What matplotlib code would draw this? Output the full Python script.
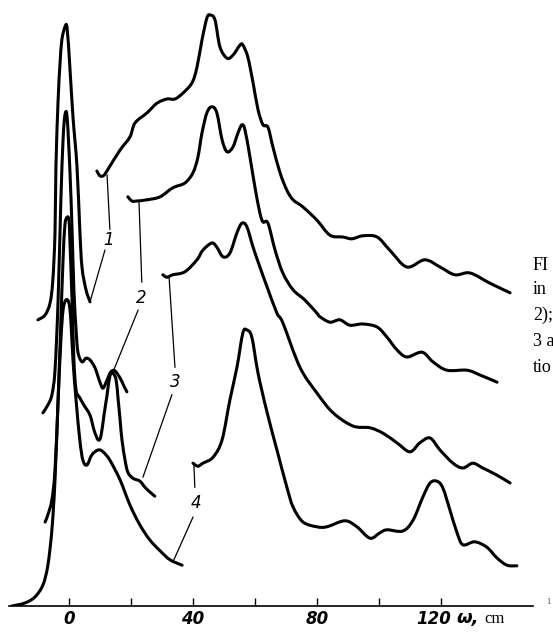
import numpy as np
import matplotlib
matplotlib.use("Agg")
import matplotlib.pyplot as plt
from matplotlib.path import Path
from matplotlib.patches import PathPatch
from matplotlib.transforms import ScaledTranslation

# ---------------------------------------------------------------
# Low-frequency spectra, four samples (1-4), each drawn as a
# Rayleigh-wing part plus a magnified part (arbitrary intensity)
# ---------------------------------------------------------------

# sample 1
s1_low_w = [-10.0, -7.7, -6.1, -5.2, -4.5, -4.2, -3.5, -2.9, -2.3, -1.3, -0.6, 0.3, 1.3, 2.6, 3.5, 4.2, 5.5, 6.8]
s1_low_i = [47.7, 48.5, 50.5, 54.3, 62.2, 73.2, 84.3, 90.2, 94.3, 96.5, 96.3, 89.8, 81.5, 73.2, 62.7, 56.5, 52.7, 50.7]
s1_mag_w = [9.0, 10.0, 11.3, 13.2, 16.5, 19.7, 21.3, 25.2, 28.4, 31.6, 34.2, 36.8, 39.7, 41.3, 42.9, 44.5, 45.5,
            47.1, 48.7, 51.0, 52.9, 55.2, 56.1, 57.7, 59.4, 61.0, 62.6, 64.2, 65.8, 68.1, 70.3, 72.3, 75.5, 80.0,
            84.2, 88.4, 91.3, 94.8, 99.4, 103.5, 109.0, 114.8, 119.7, 124.5, 129.4, 135.8, 142.3]
s1_mag_i = [72.5, 71.7, 71.8, 73.3, 76.0, 78.2, 80.5, 82.2, 83.8, 84.5, 84.5, 85.5, 87.2, 89.8, 94.3, 98.0, 98.5,
            97.7, 93.2, 91.3, 91.8, 93.5, 93.5, 91.5, 87.2, 82.7, 80.2, 79.8, 76.5, 72.2, 69.3, 67.7, 66.5, 64.3,
            61.8, 61.5, 61.2, 61.7, 61.5, 59.3, 56.5, 57.7, 56.5, 55.2, 55.5, 53.8, 52.2]

# sample 2
s2_low_w = [-8.4, -6.8, -5.5, -4.5, -3.5, -2.6, -1.9, -1.3, -0.6, 0.3, 1.0, 1.6, 2.3, 2.9, 4.2, 5.5, 6.8, 8.4,
            10.0, 11.0, 12.3, 13.5, 14.8, 16.5, 17.7, 18.7]
s2_low_i = [32.2, 33.5, 35.2, 39.3, 51.0, 67.7, 77.7, 81.8, 81.5, 72.7, 62.7, 52.7, 46.0, 42.3, 40.7, 41.3, 41.0,
            39.7, 37.3, 36.3, 37.7, 39.0, 39.2, 38.0, 36.7, 35.7]
s2_mag_w = [19.0, 20.3, 21.9, 25.2, 29.4, 33.5, 37.4, 40.0, 41.6, 42.9, 44.5, 46.1, 47.7, 49.4, 51.0, 52.9, 54.5,
            55.8, 56.8, 58.4, 60.0, 61.6, 62.6, 64.2, 66.5, 69.0, 72.3, 76.1, 80.0, 81.0, 84.2, 87.4, 90.6, 94.8,
            99.4, 102.6, 105.8, 109.0, 113.9, 117.4, 121.9, 128.4, 132.6, 138.1]
s2_mag_i = [68.2, 67.5, 67.5, 67.7, 68.2, 69.7, 70.5, 72.2, 74.8, 78.8, 82.2, 83.2, 82.2, 77.7, 75.7, 76.5, 78.8,
            80.2, 79.3, 74.8, 69.8, 65.5, 64.0, 63.8, 59.3, 55.5, 52.7, 51.0, 48.8, 48.2, 47.3, 47.7, 46.8, 47.0,
            46.5, 44.8, 42.7, 41.5, 42.3, 40.7, 39.3, 39.3, 38.5, 37.3]

# sample 3
s3_low_w = [-7.7, -6.8, -5.5, -4.5, -3.5, -2.6, -1.9, -1.3, -0.6, 0.0, 0.3, 1.0, 1.6, 2.3, 3.5, 4.8, 6.8, 8.1,
            9.4, 10.3, 11.3, 12.3, 13.2, 14.2, 15.2, 15.8, 16.5, 17.1, 18.1, 19.0, 20.6, 22.9, 24.5, 26.1, 27.7]
s3_low_i = [14.0, 15.2, 17.7, 22.7, 34.3, 47.7, 57.7, 63.5, 64.8, 64.3, 61.0, 51.0, 41.0, 36.0, 34.7, 33.5, 31.8,
            29.3, 27.7, 28.3, 31.8, 35.2, 38.3, 38.8, 37.7, 34.8, 31.0, 27.7, 24.3, 22.3, 21.3, 20.8, 19.8, 19.0, 18.3]
s3_mag_w = [30.3, 31.6, 33.5, 37.4, 41.3, 43.2, 46.1, 47.7, 49.7, 51.9, 54.2, 55.8, 57.4, 59.4, 61.6, 63.9, 67.1,
            69.0, 74.5, 80.0, 85.2, 91.6, 97.1, 101.3, 105.8, 110.0, 113.2, 116.5, 119.7, 123.9, 127.1, 130.3,
            133.5, 138.1, 142.3]
s3_mag_i = [55.2, 54.8, 55.2, 55.7, 57.7, 59.3, 60.5, 59.8, 58.2, 58.8, 62.2, 63.8, 63.2, 59.8, 56.5, 53.2, 48.8,
            47.2, 39.8, 35.5, 32.2, 30.0, 29.7, 28.8, 27.2, 25.7, 27.2, 28.0, 26.0, 23.8, 23.0, 23.8, 23.0, 21.8, 20.5]

# sample 4
s4_low_w = [-18.4, -14.2, -11.0, -8.4, -6.8, -5.5, -4.5, -3.5, -2.6, -1.9, -1.0, 0.0, 0.6, 1.3, 2.3, 3.5, 4.5,
            5.8, 7.4, 9.4, 11.0, 13.2, 16.5, 19.7, 22.9, 26.1, 29.4, 32.6, 36.5]
s4_low_i = [0.0, 0.5, 1.5, 3.5, 6.8, 12.7, 21.0, 34.3, 44.3, 49.3, 51.0, 50.5, 47.7, 41.0, 34.3, 27.7, 24.3,
            23.5, 25.2, 26.0, 25.7, 24.3, 21.0, 16.8, 13.5, 11.0, 9.2, 7.7, 6.8]
s4_mag_w = [40.0, 41.6, 43.2, 46.5, 49.4, 51.9, 54.2, 56.1, 57.4, 59.0, 61.0, 63.9, 67.1, 70.3, 72.3, 75.5, 80.0,
            83.2, 89.0, 92.9, 97.1, 100.3, 102.6, 107.7, 111.0, 114.2, 116.5, 118.7, 120.6, 122.9, 125.2, 127.1,
            130.9, 134.8, 138.1, 141.3, 144.5]
s4_mag_i = [23.8, 23.3, 23.8, 24.8, 27.7, 34.3, 39.8, 45.5, 46.0, 44.8, 38.8, 32.3, 26.0, 19.8, 16.5, 14.0, 13.2,
            13.2, 14.2, 13.2, 11.3, 12.2, 12.7, 12.5, 14.3, 18.2, 20.5, 20.8, 19.7, 16.0, 12.2, 10.2,
            10.7, 9.8, 8.0, 6.8, 6.7]

# curve labels: number, position, leader up to the magnified part, leader down to the wing
labels = ["1", "2", "3", "4"]
label_w = [12.6, 23.2, 34.2, 41.0]
label_i = [61.0, 51.3, 37.3, 17.2]
lead_up_w = [[12.3, 13.2], [22.6, 23.5], [32.3, 34.2], [40.3, 40.6]]
lead_up_i = [[71.8, 62.8], [67.3, 54.0], [54.8, 39.8], [23.8, 19.8]]
lead_dn_w = [[11.6, 6.8], [22.3, 14.2], [33.2, 23.9], [40.0, 33.5]]
lead_dn_i = [[59.3, 50.7], [49.3, 39.0], [35.2, 21.5], [14.8, 7.3]]

ticks = [0, 20, 40, 60, 80, 100, 120]
tick_labels = ["0", "", "40", "", "80", "", "120"]


def smooth_path(w, i):
    # Catmull-Rom through the read points, written as cubic Bezier pieces
    p = np.column_stack([w, i]).astype(float)
    ext = np.vstack([p[0], p, p[-1]])
    verts = [p[0]]
    codes = [Path.MOVETO]
    for k in range(1, len(ext) - 2):
        p0, p1, p2, p3 = ext[k - 1], ext[k], ext[k + 1], ext[k + 2]
        verts += [p1 + (p2 - p0) / 6, p2 - (p3 - p1) / 6, p2]
        codes += [Path.CURVE4] * 3
    return Path(verts, codes)


fig = plt.figure(figsize=(5.53, 6.32), dpi=100)
ax = fig.add_axes([8.5 / 553, 26 / 632, 524.5 / 553, 606 / 632])

lw = 2.2
for w, i in [(s1_low_w, s1_low_i), (s1_mag_w, s1_mag_i),
             (s2_low_w, s2_low_i), (s2_mag_w, s2_mag_i),
             (s3_low_w, s3_low_i), (s3_mag_w, s3_mag_i),
             (s4_low_w, s4_low_i), (s4_mag_w, s4_mag_i)]:
    ax.add_patch(PathPatch(smooth_path(w, i), fill=False, edgecolor="black", lw=lw,
                           capstyle="round", joinstyle="round"))

for k in range(4):
    ax.plot(lead_up_w[k], lead_up_i[k], color="black", lw=0.9)
    ax.plot(lead_dn_w[k], lead_dn_i[k], color="black", lw=0.9)
    ax.text(label_w[k], label_i[k], labels[k], fontsize=12, style="italic",
            ha="center", va="center", color="black")

ax.set_xlim(-19.5, 149.7)
ax.set_ylim(0, 101)
for s in ["top", "right", "left"]:
    ax.spines[s].set_visible(False)
ax.spines["bottom"].set_linewidth(1.2)
ax.set_yticks([])
ax.set_xticks(ticks)
ax.set_xticklabels(tick_labels, fontsize=12, fontweight="bold", style="italic")
ax.tick_params(axis="x", direction="in", length=6, width=1, pad=3)
# last label sits a little to the left, leaving room for the unit
last = ax.get_xticklabels()[-1]
last.set_transform(last.get_transform() + ScaledTranslation(-7 / 100, 0, fig.dpi_scale_trans))

# axis caption next to the last tick label
fig.text(456 / 553, 1 - 618 / 632, "ω,", fontsize=13, fontweight="bold", style="italic",
         ha="left", va="center")
fig.text(484 / 553, 1 - 619 / 632, "cm", fontsize=12, family="Liberation Serif",
         ha="left", va="center")
fig.text(546 / 553, 1 - 602 / 632, "1", fontsize=6, family="Liberation Serif",
         ha="left", va="center", color="#444444")

# start of the figure caption at the right edge
for y, t in zip([265, 290, 315, 341, 367], ["FI", "in", "2);", "3 a", "tio"]):
    fig.text(533 / 553, 1 - y / 632, t, fontsize=13, family="Liberation Serif",
             ha="left", va="center")

fig.savefig("out.png", dpi=100)
